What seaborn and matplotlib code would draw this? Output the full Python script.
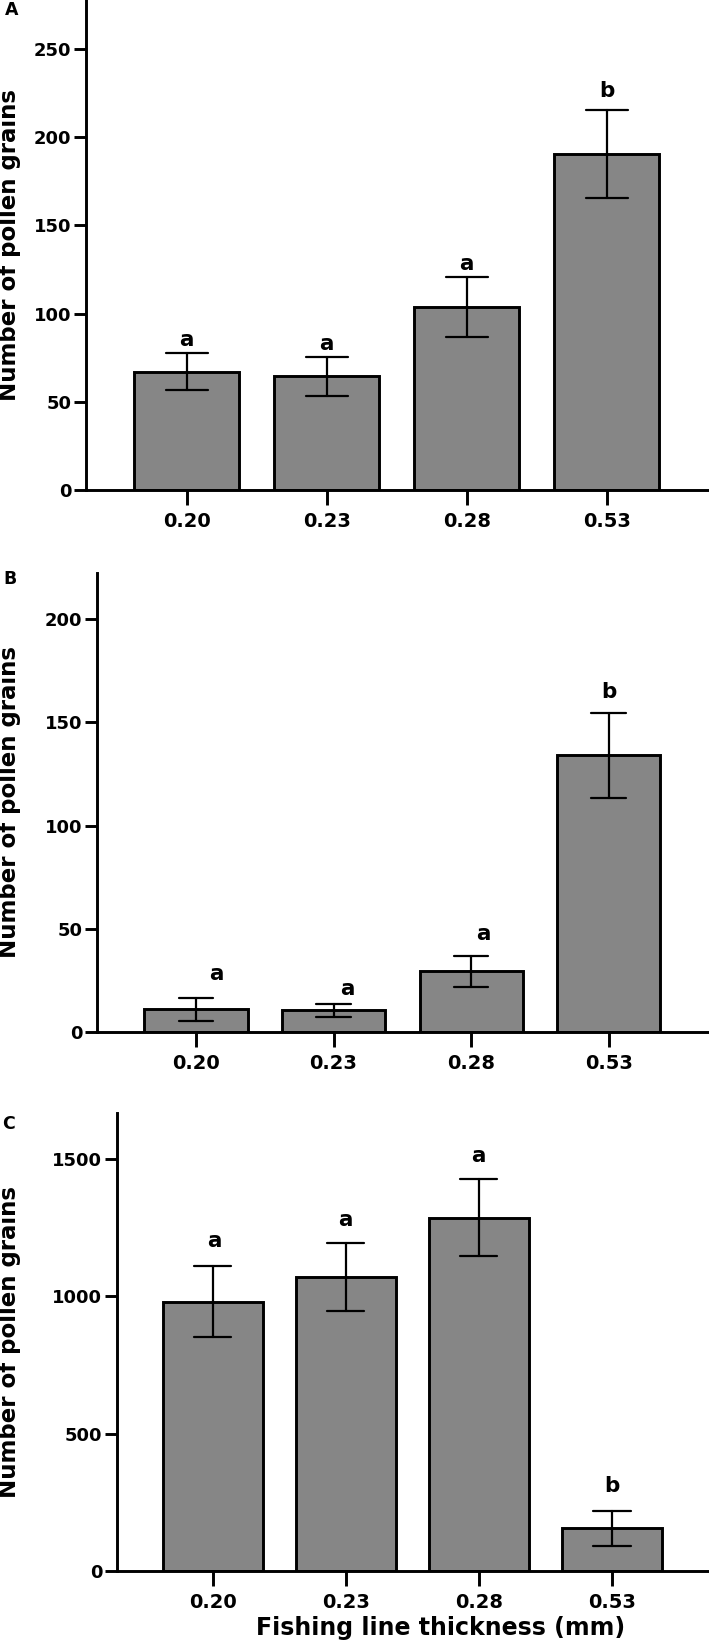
import pandas as pd
import matplotlib
matplotlib.use('Agg')
import matplotlib.pyplot as plt
import seaborn as sns

# Fishing line thickness categories (mm)
thickness = ['0.20', '0.23', '0.28', '0.53']

# Panel A
mean_a = [67, 64.5, 103.5, 190.5]
err_a = [10.5, 11, 17, 24.7]
letters_a = ['a', 'a', 'a', 'b']
letter_y_a = [85, 83, 128, 226]
letter_dx_a = [0, 0, 0, 0]

# Panel B
mean_b = [11, 10.5, 29.4, 134]
err_b = [5.6, 3.3, 7.6, 20.5]
letters_b = ['a', 'a', 'a', 'b']
letter_y_b = [28.3, 21, 47.7, 164.6]
letter_dx_b = [0.15, 0.1, 0.09, 0]

# Panel C
mean_c = [980, 1070, 1286, 155]
err_c = [130, 124, 141, 64]
letters_c = ['a', 'a', 'a', 'b']
letter_y_c = [1200, 1276, 1510, 309]
letter_dx_c = [0.015, 0, 0, 0]

sns.set_style('ticks')
plt.rcParams['font.family'] = ['DejaVu Sans']
plt.rcParams['font.weight'] = 'bold'
plt.rcParams['axes.labelweight'] = 'bold'
for key in ['text.color', 'axes.labelcolor', 'xtick.color', 'ytick.color', 'axes.edgecolor']:
    plt.rcParams[key] = 'black'

W, H = 709, 1644
fig = plt.figure(figsize=(W / 100, H / 100), dpi=100)


def px_axes(left, top, right, bottom):
    return fig.add_axes([left / W, 1 - bottom / H, (right - left) / W, (bottom - top) / H])


def make_df(means, errs):
    # two rows per bar: mean - err and mean + err, so the mean is the bar
    # and min/max give the error bar
    rows = []
    for t, m, e in zip(thickness, means, errs):
        rows.append({'thickness': t, 'grains': m - e})
        rows.append({'thickness': t, 'grains': m + e})
    return pd.DataFrame(rows)


panels = [
    ('A', mean_a, err_a, letters_a, letter_y_a, letter_dx_a, (86, 0, 709, 490), 277.8,
     [0, 50, 100, 150, 200, 250], 0.30, (5, 15)),
    ('B', mean_b, err_b, letters_b, letter_y_b, letter_dx_b, (97, 573, 709, 1032), 222.3,
     [0, 50, 100, 150, 200], 0.25, (3, 584)),
    ('C', mean_c, err_c, letters_c, letter_y_c, letter_dx_c, (117, 1113, 709, 1571), 1667,
     [0, 500, 1000, 1500], 0.28, (2, 1129)),
]

for name, means, errs, letters, ly, ldx, box, ymax, yticks, cap, lab in panels:
    ax = px_axes(*box)
    df = make_df(means, errs)
    sns.barplot(data=df, x='thickness', y='grains', order=thickness,
                estimator='mean', errorbar=lambda v: (v.min(), v.max()),
                color='#868686', saturation=1, width=0.75,
                edgecolor='black', linewidth=2.1, capsize=cap,
                err_kws={'color': 'black', 'linewidth': 1.6}, ax=ax)

    for i, (txt, y, dx) in enumerate(zip(letters, ly, ldx)):
        ax.text(i + dx, y, txt, ha='center', va='center', fontsize=15.5, fontweight='bold')

    ax.set_xlim(-0.72, 3.73)
    ax.set_ylim(0, ymax)
    ax.set_yticks(yticks)
    ax.set_xlabel('')
    ax.set_ylabel('Number of pollen grains', fontsize=16.5)
    left = box[0]
    width = box[2] - box[0]
    ax.yaxis.set_label_coords((21 - left) / width, 0.5)

    ax.spines['top'].set_visible(False)
    ax.spines['right'].set_visible(False)
    ax.spines['left'].set_linewidth(2.1)
    ax.spines['bottom'].set_linewidth(2.1)
    ax.tick_params(axis='y', length=8.6, width=2.1, labelsize=13, pad=2)
    ax.tick_params(axis='x', length=10.8, width=2.1, labelsize=14, pad=5)

    fig.text(lab[0] / W, 1 - lab[1] / H, name, ha='left', va='baseline',
             fontsize=12.5, fontweight='bold')

fig.text(441 / W, 1 - 1628 / H, 'Fishing line thickness (mm)', ha='center', va='center',
         fontsize=17, fontweight='bold')

fig.savefig('out.png', dpi=100)
